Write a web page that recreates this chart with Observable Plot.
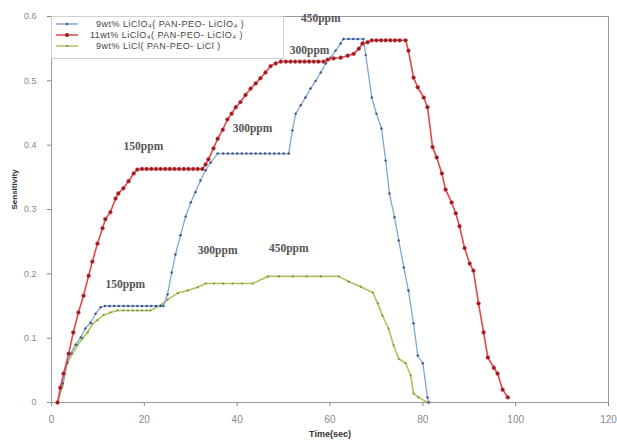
<!DOCTYPE html>
<html>
<head>
<meta charset="utf-8">
<script src="https://cdn.jsdelivr.net/npm/d3@7"></script>
<script src="https://cdn.jsdelivr.net/npm/@observablehq/plot@0.6"></script>
<style>
  body { margin: 0; background: #fff; }
  #chart { position: relative; width: 617px; height: 446px; }
</style>
</head>
<body>
<div id="chart"></div>
<script>
// ---- data ----
const xTicks = [0, 20, 40, 60, 80, 100, 120];
const yTicks = [0, 0.1, 0.2, 0.3, 0.4, 0.5, 0.6];

const seriesNames = [
  "9wt% LiClO₄( PAN-PEO- LiClO₄ )",
  "11wt% LiClO₄( PAN-PEO- LiClO₄ )",
  "9wt% LiCl( PAN-PEO- LiCl )"
];

const blueT = [1.3,2.4,3.4,4.1,5.2,6.3,7.3,8.4,9.5,10.6,11.5,12.5,13.5,14.5,15.5,16.5,17.5,18.5,19.5,20.5,21.5,22.5,23.5,24.1,25.0,25.9,26.7,27.8,28.9,30.0,31.0,32.1,33.2,34.3,35.8,37,38,39,40,41,42,43,44,45,46,47,48,49,50,51.1,51.9,52.6,53.7,54.7,55.8,56.9,58.0,59.1,60.1,61.2,62.3,62.9,64,65,66,67.2,67.7,69.0,70.0,71.1,72.0,72.8,73.9,74.8,75.9,76.9,78.0,78.9,80.0,81.0,81.3];
const blueV = [0,0.030,0.062,0.076,0.090,0.101,0.115,0.124,0.138,0.148,0.150,0.150,0.150,0.150,0.150,0.150,0.150,0.150,0.150,0.150,0.150,0.150,0.150,0.150,0.168,0.202,0.230,0.260,0.289,0.311,0.327,0.345,0.361,0.373,0.387,0.387,0.387,0.387,0.387,0.387,0.387,0.387,0.387,0.387,0.387,0.387,0.387,0.387,0.387,0.387,0.423,0.449,0.462,0.474,0.488,0.500,0.513,0.527,0.536,0.547,0.558,0.565,0.565,0.565,0.565,0.565,0.540,0.474,0.449,0.426,0.376,0.325,0.288,0.252,0.210,0.174,0.123,0.073,0.061,0.008,0];

const redT = [1.3,1.9,2.6,3.7,4.7,5.8,6.9,8.0,8.8,9.9,11.0,11.6,12.7,13.8,14.4,15.5,16.6,17.7,18.5,19.5,20.5,21.5,22.5,23.5,24.5,25.5,26.5,27.5,28.5,29.5,30.5,31.5,32.5,33.2,33.8,34.9,35.8,36.9,37.9,38.8,39.7,40.7,41.8,42.9,44.0,45.0,46.1,47.2,48.3,49.4,50.5,51.5,52.5,53.5,54.5,55.5,56.5,57.5,58.6,59.5,60.8,62.3,63.8,65.1,66.2,67.0,68.1,69,70,71,72,73,74,75,76.3,76.9,78.0,78.9,80.2,81.0,82.1,83.0,84.1,84.9,86.2,87.1,87.9,89.0,90.1,90.9,92.0,93.1,94.0,95.3,96.1,97.2,98.3];
const redV = [0,0.023,0.045,0.076,0.109,0.140,0.166,0.197,0.219,0.247,0.271,0.285,0.296,0.317,0.325,0.333,0.344,0.356,0.362,0.363,0.363,0.363,0.363,0.363,0.363,0.363,0.363,0.363,0.363,0.363,0.363,0.363,0.363,0.370,0.378,0.395,0.410,0.424,0.440,0.449,0.459,0.467,0.478,0.488,0.496,0.504,0.513,0.523,0.527,0.530,0.530,0.530,0.530,0.530,0.530,0.530,0.530,0.530,0.530,0.533,0.535,0.536,0.539,0.542,0.550,0.558,0.560,0.563,0.563,0.563,0.563,0.563,0.563,0.563,0.563,0.547,0.505,0.490,0.474,0.459,0.397,0.381,0.356,0.331,0.311,0.294,0.274,0.240,0.216,0.205,0.154,0.109,0.070,0.054,0.045,0.020,0.008];

const greenT = [1.3,2.4,3.4,4.5,5.6,6.7,7.8,8.8,9.9,11.2,12.7,14.2,15.5,16.5,17.5,18.5,19.5,20.5,21.3,23.5,25.0,27.2,29.3,31.5,33.2,35,37,39,41,43.3,46.6,49,52,55,58,61.9,64.0,66.6,69.2,70.3,71.3,72.6,73.7,74.8,76.3,77.4,78.0,79.1,81.0];
const greenV = [0,0.026,0.061,0.076,0.089,0.100,0.109,0.122,0.128,0.136,0.140,0.143,0.143,0.143,0.143,0.143,0.143,0.143,0.143,0.151,0.160,0.170,0.174,0.179,0.185,0.185,0.185,0.185,0.185,0.185,0.196,0.196,0.196,0.196,0.196,0.196,0.188,0.180,0.171,0.154,0.135,0.115,0.089,0.068,0.061,0.042,0.014,0.008,0];

const annText = ["450ppm","300ppm","300ppm","150ppm","300ppm","450ppm","150ppm"];
const annX    = [58.0, 55.6, 43.3, 19.8, 35.8, 51.1, 15.9];
const annY    = [0.597, 0.547, 0.426, 0.398, 0.236, 0.240, 0.184];

// ---- build tables ----
const toRows = (T, V) => T.map((t, i) => ({t, v: V[i]}));
const blue = toRows(blueT, blueV);
const red = toRows(redT, redV);
const green = toRows(greenT, greenV);
const ann = annText.map((s, i) => ({s, x: annX[i], y: annY[i]}));

const C = {
  blue: "#7fa6d8", blueM: "#3d5283",
  red: "#e5464a", redM: "#8e1c22",
  green: "#a9c65c", greenM: "#76923c"
};

const chart = Plot.plot({
  width: 617, height: 446,
  marginLeft: 51, marginRight: 9, marginTop: 16, marginBottom: 44,
  style: {background: "white", fontFamily: "'Liberation Sans', Arial, sans-serif"},
  x: {domain: [0, 120]},
  y: {domain: [0, 0.6]},
  marks: [
    Plot.axisX({ticks: xTicks, tickSize: 4, tickPadding: 9, fontSize: 10, color: "#888", label: null}),
    Plot.axisY({ticks: yTicks, tickSize: 4, tickPadding: 11, fontSize: 9, color: "#888", label: null,
      tickFormat: d => d === 0 ? "0" : d.toFixed(1)}),
    Plot.frame({stroke: "#9a9a9a"}),
    Plot.line(green, {x: "t", y: "v", stroke: C.green, strokeWidth: 1.6}),
    Plot.dot(green, {x: "t", y: "v", r: 1.1, fill: C.greenM, stroke: null}),
    Plot.line(blue, {x: "t", y: "v", stroke: C.blue, strokeWidth: 1.3}),
    Plot.dot(blue, {x: "t", y: "v", r: 1.2, fill: C.blueM, stroke: null}),
    Plot.line(red, {x: "t", y: "v", stroke: C.red, strokeWidth: 1.6}),
    Plot.dot(red, {x: "t", y: "v", r: 1.9, fill: C.redM, stroke: C.red, strokeWidth: 0.5}),
    Plot.text(ann, {x: "x", y: "y", text: "s", fill: "#555", fontSize: 11.5, fontWeight: "bold",
      fontFamily: "'Liberation Serif', serif"}),
    Plot.text(["Time(sec)"], {frameAnchor: "bottom", dy: 34, fontSize: 9, fontWeight: "bold", fill: "#333"}),
    Plot.text(["Sensitivity"], {frameAnchor: "left", dx: -37, rotate: -90, fontSize: 8, fontWeight: "bold", fill: "#333"})
  ]
});

document.getElementById("chart").appendChild(chart);

// ---- legend box (inside plot, upper left) ----
const svg = d3.select(chart);
const lg = svg.append("g").attr("font-family", "'Liberation Sans', Arial, sans-serif")
  .attr("text-anchor", "start");
lg.append("rect").attr("x", 51.5).attr("y", 16.5).attr("width", 232).attr("height", 42)
  .attr("fill", "white").attr("stroke", "#cfcfcf");
const legendColors = [[C.blue, C.blueM, 1.2], [C.red, C.redM, 2], [C.green, C.greenM, 1.1]];
const rowY = [24, 35, 46];
const textX = [96, 90, 96];
seriesNames.forEach((name, i) => {
  const [lc, mc, r] = legendColors[i];
  lg.append("line").attr("x1", 56).attr("x2", 78).attr("y1", rowY[i]).attr("y2", rowY[i])
    .attr("stroke", lc).attr("stroke-width", 1.5);
  lg.append("circle").attr("cx", 67).attr("cy", rowY[i]).attr("r", r).attr("fill", mc);
  lg.append("text").attr("x", textX[i]).attr("y", rowY[i]).attr("dy", "0.35em")
    .attr("text-anchor", "start")
    .attr("font-size", 9).attr("fill", "#444").attr("letter-spacing", "0.5px")
    .text(name);
});
</script>
</body>
</html>
